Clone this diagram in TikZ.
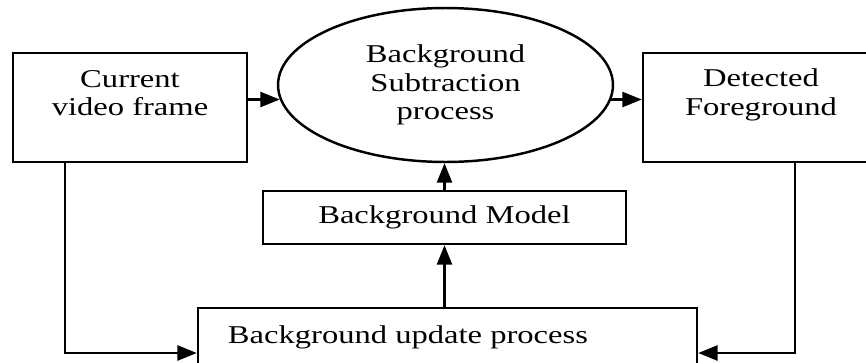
\documentclass[tikz,border=0pt]{standalone}
\usepackage{fontspec}
\setmainfont[FakeStretch=1.27]{Liberation Serif}
\usetikzlibrary{shapes,arrows.meta}

\begin{document}
\begin{tikzpicture}[x=0.02cm,y=-0.02cm,
  blk/.style={shape=rectangle,draw=black,line width=1.4pt,inner sep=0pt},
  txt/.style={align=center,inner sep=0pt,font=\fontsize{14.6}{16.2}\selectfont},
  arr/.style={-{Triangle[length=11pt,width=8.5pt]},draw=black,line width=1.4pt}]
\clip (0,0) rectangle (866,362);
\node[blk,minimum width=4.68cm,minimum height=2.18cm] (0) at (130,107.5) {};
\node[txt] (5) at (130,93) {Current\\video frame};
\node[shape=ellipse,draw=black,line width=1.4pt,txt,minimum width=6.7cm,minimum height=3.08cm] (1) at (445.5,85) {Background\\Subtraction\\process};
\node[blk,minimum width=4.72cm,minimum height=2.18cm] (2) at (761,107.5) {};
\node[txt] (6) at (761,95) {Detected\\Foreground};
\node[blk,txt,minimum width=7.26cm,minimum height=1.06cm] (3) at (444.5,217.5) {Background Model};
\node[blk,minimum width=9.98cm,minimum height=1.8cm] (4) at (447.5,353) {};
\node[txt] (7) at (408,337) {Background update process};

\draw [arr] (0.east |- 1.185) -- (1.185);
\draw [arr] (1.-5) -- (2.west |- 1.-5);
\draw [arr] (3.north) -- (3.north |- 1.south);
\draw [arr] (3.south |- 4.north) -- (3.south);
\draw [arr] ([xshift=1.06cm]0.south west) |- (4.west);
\draw [arr] ([xshift=3.06cm]2.south west) |- (4.east);
\end{tikzpicture}
\end{document}
